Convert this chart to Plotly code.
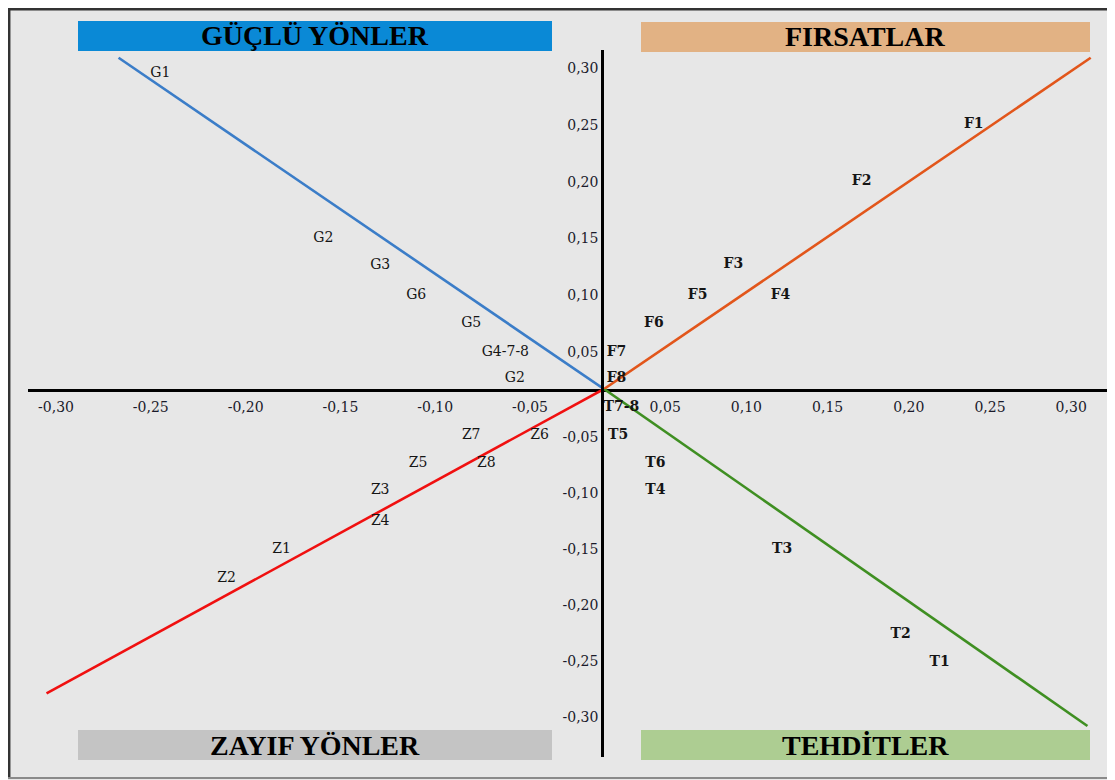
import plotly.graph_objects as go

# ---------------------------------------------------------------------
# DATA
# ---------------------------------------------------------------------
g_labels = ["G1", "G2", "G3", "G6", "G5", "G4-7-8", "G2"]
g_x = [-0.245, -0.159, -0.129, -0.110, -0.081, -0.063, -0.058]
g_y = [0.295, 0.150, 0.126, 0.100, 0.075, 0.050, 0.027]

f_labels = ["F1", "F2", "F3", "F4", "F5", "F6", "F7", "F8"]
f_x = [0.240, 0.171, 0.092, 0.121, 0.070, 0.043, 0.020, 0.020]
f_y = [0.250, 0.200, 0.127, 0.100, 0.100, 0.075, 0.050, 0.027]

z_labels = ["Z1", "Z2", "Z3", "Z4", "Z5", "Z6", "Z7", "Z8"]
z_x = [-0.181, -0.210, -0.129, -0.129, -0.109, -0.045, -0.081, -0.073]
z_y = [-0.150, -0.176, -0.098, -0.125, -0.074, -0.049, -0.049, -0.074]

t_labels = ["T1", "T2", "T3", "T4", "T5", "T6", "T7-8"]
t_x = [0.219, 0.195, 0.122, 0.044, 0.021, 0.044, 0.023]
t_y = [-0.251, -0.226, -0.150, -0.098, -0.049, -0.074, -0.024]

# diagonal lines, one per quadrant (outer end, centre end)
g_line_x = [-0.267, -0.011]
g_line_y = [0.309, 0.0174]
f_line_x = [0.0123, 0.312]
f_line_y = [0.0174, 0.309]
z_line_x = [-0.305, -0.011]
z_line_y = [-0.279, -0.0071]
t_line_x = [0.0123, 0.310]
t_line_y = [-0.0071, -0.308]

x_neg_ticks = [-0.30, -0.25, -0.20, -0.15, -0.10, -0.05]
x_pos_ticks = [0.05, 0.10, 0.15, 0.20, 0.25, 0.30]
y_pos_ticks = [0.05, 0.10, 0.15, 0.20, 0.25, 0.30]
y_neg_ticks = [-0.05, -0.10, -0.15, -0.20, -0.25, -0.30]

banners = ["GÜÇLÜ YÖNLER", "FIRSATLAR", "ZAYIF YÖNLER", "TEHDİTLER"]


def tick_text(vals):
    return [f"{v:.2f}".replace(".", ",") for v in vals]


# the page body adds an 8px margin, so the figure is laid out 8px smaller
PAGE = 8
W, H = 1115 - PAGE, 780 - PAGE
SERIF = "Liberation Serif, Times New Roman, serif"
CAMBRIA = "DejaVu Serif, serif"


def px_x(p):
    return (p - PAGE) / W


def px_y(p):
    return 1 - (p - PAGE) / H


fig = go.Figure()

# quadrant lines
fig.add_trace(go.Scatter(x=g_line_x, y=g_line_y, mode="lines", xaxis="x", yaxis="y",
                         line=dict(color="#3b7dc8", width=2.6)))
fig.add_trace(go.Scatter(x=f_line_x, y=f_line_y, mode="lines", xaxis="x2", yaxis="y",
                         line=dict(color="#e2561b", width=2.6)))
fig.add_trace(go.Scatter(x=z_line_x, y=z_line_y, mode="lines", xaxis="x", yaxis="y2",
                         line=dict(color="#f01010", width=2.6)))
fig.add_trace(go.Scatter(x=t_line_x, y=t_line_y, mode="lines", xaxis="x2", yaxis="y2",
                         line=dict(color="#3f8f22", width=2.6)))

# factor labels
label_font = dict(family=CAMBRIA, size=14, color="#151515")
bold_font = dict(family=CAMBRIA, size=14, color="#151515", weight="bold")
fig.add_trace(go.Scatter(x=g_x, y=g_y, text=g_labels, mode="text", xaxis="x", yaxis="y",
                         textfont=label_font, cliponaxis=False))
fig.add_trace(go.Scatter(x=f_x, y=f_y, text=f_labels, mode="text", xaxis="x2", yaxis="y",
                         textfont=bold_font, cliponaxis=False))
fig.add_trace(go.Scatter(x=z_x, y=z_y, text=z_labels, mode="text", xaxis="x", yaxis="y2",
                         textfont=label_font, cliponaxis=False))
fig.add_trace(go.Scatter(x=t_x, y=t_y, text=t_labels, mode="text", xaxis="x2", yaxis="y2",
                         textfont=bold_font, cliponaxis=False))

tick_font = dict(family=CAMBRIA, size=14, color="#1a1a2a")
axis_common = dict(showgrid=False, zeroline=False, showline=True, linecolor="black",
                   linewidth=2.5, ticks="", tickfont=tick_font, fixedrange=True)

fig.update_layout(
    width=W, height=H,
    margin=dict(l=0, r=0, t=0, b=0),
    paper_bgcolor="#e7e7e7",
    plot_bgcolor="rgba(0,0,0,0)",
    showlegend=False,
    xaxis=dict(domain=[px_x(28), px_x(604)], range=[-0.31477, -0.01097], anchor="y",
               side="bottom", tickvals=x_neg_ticks, ticktext=tick_text(x_neg_ticks),
               ticklabelstandoff=3, **axis_common),
    xaxis2=dict(domain=[px_x(604), 1], range=[0.01232, 0.32697], anchor="y",
                side="bottom", tickvals=x_pos_ticks, ticktext=tick_text(x_pos_ticks),
                ticklabelstandoff=3, **axis_common),
    yaxis=dict(domain=[px_y(389), px_y(50)], range=[0.01743, 0.31585], anchor="x2",
               side="left", tickvals=y_pos_ticks, ticktext=tick_text(y_pos_ticks),
               ticklabelstandoff=0, **axis_common),
    yaxis2=dict(domain=[px_y(757), px_y(389)], range=[-0.33571, -0.00714], anchor="x2",
                side="left", tickvals=y_neg_ticks, ticktext=tick_text(y_neg_ticks),
                ticklabelstandoff=0, **axis_common),
)

# title banners
banner_boxes = [
    (78, 21, 552, 51, "#0a89d6"),
    (641, 22, 1090, 52, "#e2b284"),
    (78, 730, 552, 760, "#c4c4c4"),
    (641, 730, 1090, 760, "#adcd92"),
]
for text, (x0, y0, x1, y1, col) in zip(banners, banner_boxes):
    fig.add_shape(type="rect", xref="paper", yref="paper",
                  x0=px_x(x0), x1=px_x(x1), y0=px_y(y1), y1=px_y(y0),
                  fillcolor=col, line=dict(width=0), layer="below")
    fig.add_annotation(xref="paper", yref="paper", x=(px_x(x0) + px_x(x1)) / 2,
                       y=(px_y(y0) + px_y(y1)) / 2, xanchor="center", yanchor="middle",
                       text=f"<b>{text}</b>", showarrow=False,
                       font=dict(family=SERIF, size=28, color="black"))

# outer frame
fig.add_shape(type="line", xref="paper", yref="paper", x0=px_x(9.2), x1=px_x(9.2),
              y0=px_y(778), y1=1, line=dict(color="#333333", width=2.5))
fig.add_shape(type="line", xref="paper", yref="paper", x0=px_x(8), x1=1,
              y0=px_y(9.2), y1=px_y(9.2), line=dict(color="#333333", width=2.5))
fig.add_shape(type="line", xref="paper", yref="paper", x0=px_x(8), x1=1,
              y0=px_y(778), y1=px_y(778), line=dict(color="#8a8a8a", width=2))

fig.write_html("out.html")
